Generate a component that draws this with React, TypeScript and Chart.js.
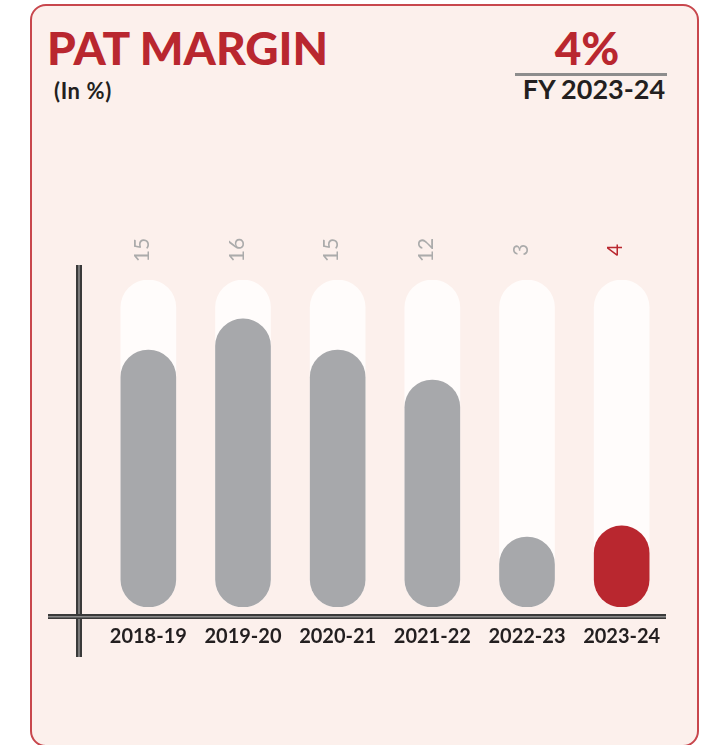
import React, { useEffect, useRef } from "react";
import { Chart, registerables } from "chart.js";

Chart.register(...registerables);

const categories = ["2018-19", "2019-20", "2020-21", "2021-22", "2022-23", "2023-24"];
const patMargin = [15, 16, 15, 12, 3, 4];
// visual fill level of each pill (percent of full track)
const fillLevel = [78.6, 88.1, 78.6, 69.4, 21.4, 24.8];
const trackLevel = [100, 100, 100, 100, 100, 100];

const RED = "#b9272f";
const GREY = "#a7a8ab";
const TRACK = "#fffcfb";
const LABEL_GREY = "#ababab";
const DARK = "#231f20";
const FONT = "Lato, 'Open Sans', sans-serif";

const decorPlugin = {
  id: "decor",
  afterDraw(chart: any) {
    const ctx = chart.ctx;
    const area = chart.chartArea;
    const meta = chart.getDatasetMeta(0);
    ctx.save();
    // axis lines
    const vx = area.left - 25;
    ctx.fillStyle = "#3a3a3a";
    ctx.fillRect(vx, area.top - 15, 6, area.bottom - area.top + 65);
    ctx.fillStyle = "#7a7a7a";
    ctx.fillRect(vx + 2, area.top - 15, 2, area.bottom - area.top + 65);
    const hy = area.bottom + 7;
    ctx.fillStyle = "#3a3a3a";
    ctx.fillRect(area.left - 53, hy, area.right - area.left + 50, 5);
    ctx.fillStyle = "#8a8a8a";
    ctx.fillRect(area.left - 53, hy + 2, area.right - area.left + 50, 1.5);
    // value labels
    ctx.font = `400 21px ${FONT}`;
    ctx.textAlign = "center";
    ctx.textBaseline = "alphabetic";
    meta.data.forEach((el: any, i: number) => {
      ctx.save();
      ctx.translate(el.x + 0.5, area.top - 30);
      ctx.rotate(-Math.PI / 2);
      ctx.fillStyle = i === patMargin.length - 1 ? RED : LABEL_GREY;
      ctx.fillText(String(patMargin[i]), 0, 0);
      ctx.restore();
    });
    ctx.restore();
  },
};

function PatChart() {
  const ref = useRef<HTMLCanvasElement>(null);
  useEffect(() => {
    if (!ref.current) return;
    const chart = new Chart(ref.current, {
      type: "bar",
      data: {
        labels: categories,
        datasets: [
          {
            data: fillLevel,
            backgroundColor: fillLevel.map((_, i) => (i === fillLevel.length - 1 ? RED : GREY)),
            borderRadius: 28,
            borderSkipped: false,
            barThickness: 55,
            grouped: false,
            order: 0,
          } as any,
          {
            data: trackLevel,
            backgroundColor: TRACK,
            borderRadius: 28,
            borderSkipped: false,
            barThickness: 55,
            grouped: false,
            order: 1,
          } as any,
        ],
      },
      options: {
        animation: false,
        responsive: false,
        devicePixelRatio: 1,
        layout: { padding: { left: 101, right: 47, top: 280, bottom: 98 } },
        plugins: { legend: { display: false }, tooltip: { enabled: false } },
        scales: {
          x: {
            grid: { display: false, drawTicks: false },
            border: { display: false },
            ticks: {
              padding: 18,
              color: DARK,
              font: { family: FONT, size: 20, weight: "bold" },
            },
            afterFit: (scale: any) => {
              scale.height = 40;
            },
          },
          y: { display: false, min: 0, max: 100 },
        },
      },
      plugins: [decorPlugin],
    });
    return () => chart.destroy();
  }, []);
  return (
    <canvas
      ref={ref}
      width={716}
      height={745}
      style={{ position: "absolute", left: 0, top: 0, width: 716, height: 745 }}
    />
  );
}

export default function App() {
  return (
    <div style={{ position: "absolute", left: 0, top: 0, width: 716, height: 745, overflow: "hidden", background: "#ffffff" }}>
      <div
        style={{
          position: "absolute",
          left: 30,
          top: 4,
          width: 669,
          height: 743,
          boxSizing: "border-box",
          border: "2px solid #c8474d",
          borderRadius: 16,
          background: "#fcf0ec",
        }}
      />
      <div style={{ position: "absolute", left: 47, top: 25, font: `900 46px ${FONT}`, lineHeight: 1, color: RED, whiteSpace: "nowrap" }}>
        PAT MARGIN
      </div>
      <div style={{ position: "absolute", left: 54, top: 80, font: `bold 22px ${FONT}`, lineHeight: 1, letterSpacing: 0.6, color: DARK, whiteSpace: "nowrap" }}>
        (In %)
      </div>
      <div style={{ position: "absolute", left: 511, width: 152, top: 25, font: `900 46px ${FONT}`, lineHeight: 1, color: RED, textAlign: "center" }}>
        4%
      </div>
      <div style={{ position: "absolute", left: 515, top: 73, width: 152, height: 3, background: "#8d8d8d" }} />
      <div style={{ position: "absolute", left: 518, width: 152, top: 75.4, font: `bold 27px ${FONT}`, lineHeight: 1, color: DARK, textAlign: "center", whiteSpace: "nowrap" }}>
        FY 2023-24
      </div>
      <PatChart />
    </div>
  );
}
